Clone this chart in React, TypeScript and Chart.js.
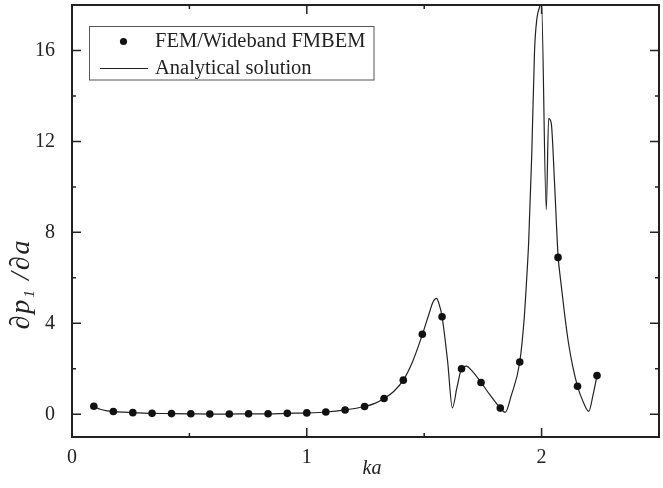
import React, { useEffect, useRef } from "react";
import { Chart, registerables } from "chart.js";

Chart.register(...registerables);

// FEM / Wideband FMBEM results (dots)
const femKa = [0.093, 0.176, 0.259, 0.341, 0.424, 0.506, 0.587, 0.670, 0.752, 0.835, 0.917, 1.0, 1.081, 1.163, 1.246, 1.329, 1.411, 1.492, 1.576, 1.659, 1.742, 1.824, 1.907, 2.070, 2.153, 2.236];
const femVal = [0.35, 0.12, 0.07, 0.04, 0.03, 0.02, 0.01, 0.01, 0.02, 0.02, 0.04, 0.06, 0.10, 0.19, 0.34, 0.69, 1.50, 3.52, 4.29, 2.00, 1.40, 0.27, 2.30, 6.90, 1.23, 1.70];

// Analytical solution (line)
const anaKa = [0.093, 0.12, 0.15, 0.176, 0.22, 0.259, 0.341, 0.424, 0.506, 0.587, 0.670, 0.752, 0.835, 0.917, 1.0, 1.081, 1.163, 1.246, 1.29, 1.329, 1.37, 1.411, 1.45, 1.492, 1.52, 1.538, 1.553, 1.562, 1.576, 1.60, 1.620, 1.64, 1.659, 1.680, 1.70, 1.742, 1.78, 1.824, 1.845, 1.87, 1.907, 1.925, 1.935, 1.945, 1.958, 1.970, 1.980, 1.991, 1.999, 2.020, 2.030, 2.041, 2.055, 2.070, 2.081, 2.098, 2.115, 2.133, 2.153, 2.175, 2.201, 2.22, 2.236];
const anaVal = [0.35, 0.22, 0.15, 0.12, 0.09, 0.07, 0.04, 0.03, 0.02, 0.01, 0.01, 0.02, 0.02, 0.04, 0.06, 0.10, 0.19, 0.34, 0.48, 0.69, 1.0, 1.5, 2.3, 3.5, 4.4, 4.95, 5.1, 4.9, 4.3, 2.3, 0.28, 1.2, 2.0, 2.12, 1.95, 1.4, 0.85, 0.27, 0.08, 0.8, 2.3, 4.1, 5.7, 7.6, 11.4, 16.0, 17.4, 17.9, 18.2, 9.0, 13.0, 12.8, 10.2, 7.0, 5.9, 4.4, 3.1, 2.08, 1.23, 0.6, 0.13, 0.9, 1.7];

const xMajor = [0, 1, 2];
const xMinor = [0.5, 1.5];
const yMajor = [0, 4, 8, 12, 16];
const yMinor = [2, 6, 10, 14];

const legendLabels = ["FEM/Wideband FMBEM", "Analytical solution"];
const xTitle = "ka";

const SERIF = "'Liberation Serif', 'Times New Roman', serif";

const framePlugin = {
  id: "frame",
  afterDraw(chart: any) {
    const { ctx, chartArea: a, scales } = chart;
    const x = scales.x;
    const y = scales.y;
    ctx.save();
    ctx.strokeStyle = "#222";
    ctx.lineWidth = 2;
    ctx.strokeRect(a.left, a.top, a.right - a.left, a.bottom - a.top);
    ctx.lineWidth = 1.5;
    ctx.beginPath();
    const xt = (v: number, len: number) => {
      const p = x.getPixelForValue(v);
      ctx.moveTo(p, a.bottom);
      ctx.lineTo(p, a.bottom - len);
      ctx.moveTo(p, a.top);
      ctx.lineTo(p, a.top + len);
    };
    const yt = (v: number, len: number) => {
      const p = y.getPixelForValue(v);
      ctx.moveTo(a.left, p);
      ctx.lineTo(a.left + len, p);
      ctx.moveTo(a.right, p);
      ctx.lineTo(a.right - len, p);
    };
    xMajor.forEach((v) => xt(v, 9));
    xMinor.forEach((v) => xt(v, 4));
    yMajor.forEach((v) => yt(v, 9));
    yMinor.forEach((v) => yt(v, 4));
    ctx.stroke();

    // legend
    ctx.strokeStyle = "#555";
    ctx.lineWidth = 1;
    ctx.strokeRect(89.5, 26.5, 284.5, 53.5);
    ctx.fillStyle = "#111";
    ctx.beginPath();
    ctx.arc(123.5, 41.5, 3.6, 0, Math.PI * 2);
    ctx.fill();
    ctx.strokeStyle = "#222";
    ctx.lineWidth = 1.2;
    ctx.beginPath();
    ctx.moveTo(100, 68.5);
    ctx.lineTo(148, 68.5);
    ctx.stroke();
    ctx.font = `20.5px ${SERIF}`;
    ctx.textBaseline = "middle";
    ctx.textAlign = "left";
    ctx.fillStyle = "#222";
    ctx.fillText(legendLabels[0], 155, 41.5);
    ctx.fillText(legendLabels[1], 155, 68.5);

    // x title
    ctx.font = `italic 20px ${SERIF}`;
    ctx.textAlign = "center";
    ctx.fillText(xTitle, 372, 469);

    // y title: ∂p1 /∂a (rotated)
    ctx.translate(21, 285);
    ctx.rotate(-Math.PI / 2);
    const F = 28;
    const gap = 2;
    const parts = [
      { t: "\u2202", size: F, dy: 0, after: gap },
      { t: "p", size: F, dy: 0, after: gap },
      { t: "1", size: F * 0.55, dy: F * 0.18, after: gap + 8 },
      { t: "/", size: F, dy: 0, after: gap },
      { t: "\u2202", size: F, dy: 0, after: gap },
      { t: "a", size: F, dy: 0, after: 0 },
    ];
    let total = 0;
    parts.forEach((p) => {
      ctx.font = `italic ${p.size}px ${SERIF}`;
      total += ctx.measureText(p.t).width + p.after;
    });
    let cx = -total / 2;
    ctx.textAlign = "left";
    ctx.textBaseline = "alphabetic";
    parts.forEach((p) => {
      ctx.font = `italic ${p.size}px ${SERIF}`;
      ctx.fillText(p.t, cx, F * 0.3 + p.dy);
      cx += ctx.measureText(p.t).width + p.after;
    });
    ctx.restore();
  },
};

export default function App() {
  const ref = useRef<HTMLCanvasElement | null>(null);
  useEffect(() => {
    document.body.style.margin = "0";
    const canvas = ref.current;
    if (!canvas) return;
    const chart = new Chart(canvas, {
      type: "scatter",
      data: {
        datasets: [
          {
            label: legendLabels[1],
            data: anaKa.map((k, i) => ({ x: k, y: anaVal[i] })),
            showLine: true,
            borderColor: "#222",
            borderWidth: 1.2,
            pointRadius: 0,
            cubicInterpolationMode: "monotone",
            order: 1,
          } as any,
          {
            label: legendLabels[0],
            data: femKa.map((k, i) => ({ x: k, y: femVal[i] })),
            showLine: false,
            pointRadius: 3.8,
            pointBackgroundColor: "#111",
            pointBorderColor: "#111",
            pointBorderWidth: 0,
            order: 0,
          },
        ],
      },
      options: {
        responsive: false,
        animation: false,
        layout: { padding: { top: 5, right: 3, left: 0, bottom: 0 } },
        plugins: { legend: { display: false }, tooltip: { enabled: false } },
        scales: {
          x: {
            type: "linear",
            min: 0,
            max: 2.5,
            grid: { display: false },
            border: { display: false },
            afterBuildTicks: (s: any) => {
              s.ticks = xMajor.map((v) => ({ value: v }));
            },
            afterFit: (s: any) => {
              s.height = 51;
              s.paddingLeft = 0;
              s.paddingRight = 0;
            },
            ticks: {
              padding: 1,
              maxRotation: 0,
              color: "#222",
              font: { family: SERIF, size: 20 },
              callback: (v: any) => String(v),
            },
          },
          y: {
            type: "linear",
            min: -1,
            max: 18,
            grid: { display: false },
            border: { display: false },
            afterBuildTicks: (s: any) => {
              s.ticks = yMajor.map((v) => ({ value: v }));
            },
            afterFit: (s: any) => {
              s.width = 72;
              s.paddingTop = 0;
              s.paddingBottom = 0;
            },
            ticks: {
              padding: 9,
              color: "#222",
              font: { family: SERIF, size: 20 },
              callback: (v: any) => String(v),
            },
          },
        },
      },
      plugins: [framePlugin],
    });
    return () => chart.destroy();
  }, []);
  return <canvas ref={ref} width={663} height={488} style={{ display: "block" }} />;
}
